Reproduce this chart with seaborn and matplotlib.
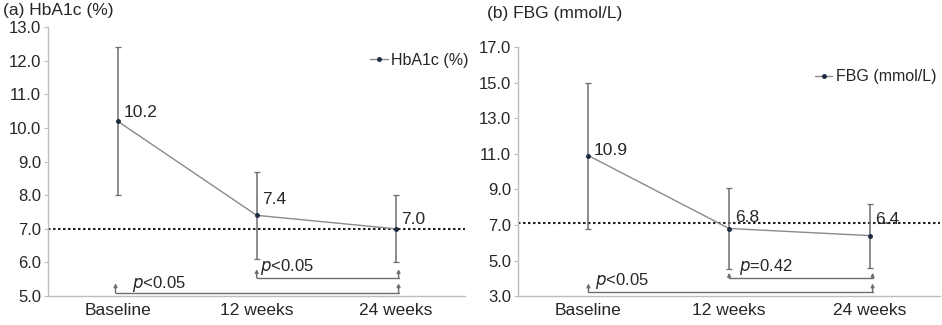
import numpy as np
import pandas as pd
import matplotlib
matplotlib.use("Agg")
import matplotlib.pyplot as plt
import seaborn as sns

# Data
visits = ["Baseline", "12 weeks", "24 weeks"]
hba1c_mean = [10.2, 7.4, 7.0]
hba1c_sd = [2.2, 1.3, 1.0]
fbg_mean = [10.9, 6.8, 6.4]
fbg_sd = [4.1, 2.3, 1.8]

hba1c_yticks = [5, 6, 7, 8, 9, 10, 11, 12, 13]
fbg_yticks = [3, 5, 7, 9, 11, 13, 15, 17]

hba1c_p = ["p<0.05", "p<0.05"]   # 12 vs 24 weeks, baseline vs 24 weeks
fbg_p = ["p=0.42", "p<0.05"]

sns.set_style("white")
plt.rcParams["font.family"] = ["Liberation Sans", "DejaVu Sans"]
plt.rcParams["font.size"] = 10.5

LINE = "#8a8a8a"
MARK = "#1c2940"
ERR = "#6e6e6e"
SPINE = "#bdbdbd"


def draw_panel(ax, means, sds, label, yticks, thresh, brackets, pvals,
               leg_xy, lab_dy):
    df = pd.DataFrame({"visit": visits, "value": means})
    sns.pointplot(data=df, x="visit", y="value", ax=ax, color=LINE,
                  markers="", linewidth=1.0, errorbar=None)
    x = np.arange(len(visits))
    ax.errorbar(x, means, yerr=sds, fmt="none", ecolor=ERR, elinewidth=1.1,
                capsize=2.5, capthick=0.9)
    ax.plot(x, means, "o", color=MARK, ms=2.5, zorder=5)
    # legend handle
    ax.plot([], [], "-", color=LINE, lw=1.0, marker="o", ms=2.5, mfc=MARK,
            mec=MARK, label=label)

    for xi, m, dy in zip(x, means, lab_dy):
        ax.annotate(f"{m:.1f}", (xi, m), xytext=(4, dy), textcoords="offset points",
                    fontsize=12.5, ha="left", va="center")

    ax.axhline(thresh, color="#222222", ls=(0, (1.2, 1.2)), lw=1.5, zorder=1)

    # p-value brackets: (x_start, x_end, y_line, y_top, y_text, x_text_offset)
    for (x0, x1, yl, yt, ytx, dx), ptxt in zip(brackets, pvals):
        ax.plot([x0, x1], [yl, yl], color=ERR, lw=1.0)
        for xe in (x0, x1):
            ax.annotate("", xy=(xe, yt), xytext=(xe, yl),
                        arrowprops=dict(arrowstyle="-|>", color=ERR, lw=1.0,
                                        mutation_scale=5, shrinkA=0, shrinkB=0))
        ax.text(x0 + dx, ytx, f"$\\it{{p}}${ptxt[1:]}", fontsize=12,
                ha="left", va="center")

    ax.set_xlim(-0.5, 2.5)
    ax.set_ylim(yticks[0], yticks[-1])
    ax.set_yticks(yticks)
    ax.set_yticklabels([f"{t:.1f}" for t in yticks], fontsize=12)
    ax.set_xticks(x)
    ax.set_xticklabels(visits, fontsize=12.5)
    ax.set_xticks([0.5, 1.5], minor=True)
    ax.tick_params(axis="x", which="major", length=0, pad=5)
    ax.tick_params(axis="x", which="minor", length=3, color=SPINE, direction="out")
    ax.tick_params(axis="y", length=3, color=SPINE, left=True, pad=2)
    ax.set_xlabel("")
    ax.set_ylabel("")
    for s in ("top", "right"):
        ax.spines[s].set_visible(False)
    for s in ("left", "bottom"):
        ax.spines[s].set_color(SPINE)
        ax.spines[s].set_linewidth(1.0)
    ax.legend(loc="center left", bbox_to_anchor=leg_xy, frameon=False,
              handlelength=1.1, handletextpad=0.2, borderaxespad=0, fontsize=11.5)


fig = plt.figure(figsize=(9.42, 3.25), dpi=100)
ax1 = fig.add_axes([0.051, 0.089, 0.443, 0.828])
ax2 = fig.add_axes([0.550, 0.089, 0.448, 0.766])

draw_panel(ax1, hba1c_mean, hba1c_sd, "HbA1c (%)", hba1c_yticks, 6.98,
           [(1.0, 2.02, 5.54, 5.80, 5.86, 0.025),
            (-0.015, 2.02, 5.09, 5.38, 5.36, 0.115)], hba1c_p,
           (0.757, 0.877), [6.5, 11.5, 6.5])
draw_panel(ax2, fbg_mean, fbg_sd, "FBG (mmol/L)", fbg_yticks, 7.1,
           [(1.0, 2.02, 4.03, 4.31, 4.65, 0.07),
            (0.0, 2.02, 3.21, 3.71, 3.84, 0.045)], fbg_p,
           (0.688, 0.88), [3.6, 8.0, 11.5])

fig.text(0.003, 0.968, "(a) HbA1c (%)", fontsize=12.5, ha="left", va="center")
fig.text(0.517, 0.958, "(b) FBG (mmol/L)", fontsize=12.5, ha="left", va="center")

fig.savefig("out.png", dpi=100)
